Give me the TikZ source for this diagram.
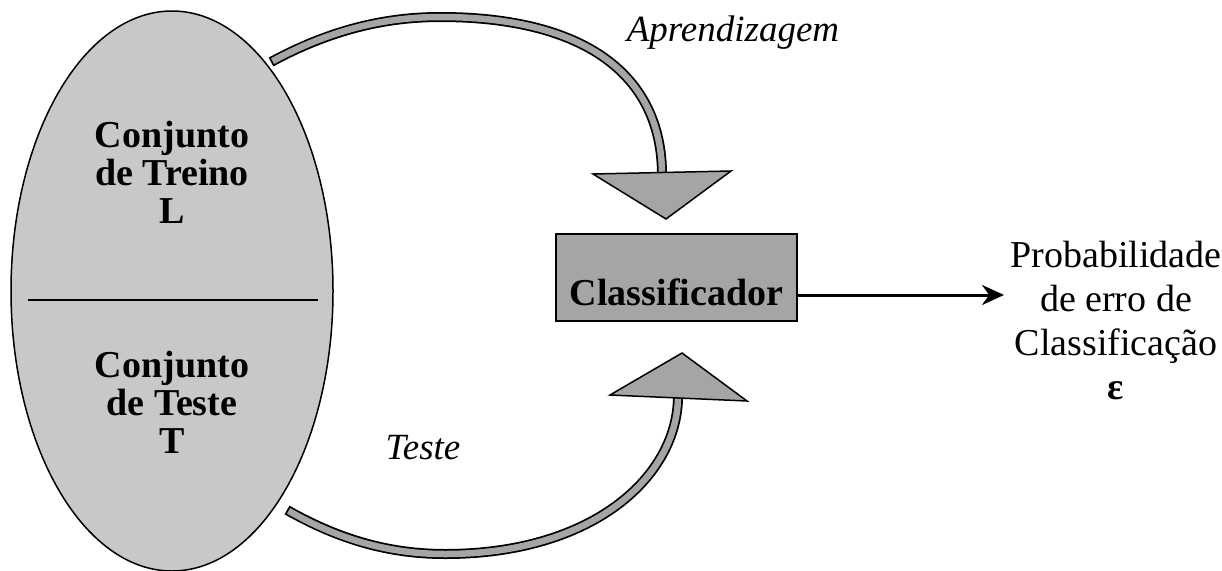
\documentclass[tikz,border=0pt]{standalone}
\usepackage{fontspec}
\setmainfont{Liberation Serif}
\usetikzlibrary{shapes.geometric,arrows.meta}
\definecolor{lightfill}{RGB}{200,200,200}
\definecolor{midfill}{RGB}{165,165,165}
\tikzset{
  big/.style={font=\fontsize{38}{44}\selectfont},
  bigbold/.style={font=\fontsize{38}{38}\selectfont\bfseries},
  bigit/.style={font=\fontsize{37}{40}\selectfont\itshape},
  bandout/.style={line width=10pt,black},
  bandin/.style={line width=6.5pt,midfill,shorten <=1.8pt},
  headshape/.style={fill=midfill,draw=black,line width=1.5pt,line join=miter},
}
\begin{document}
\begin{tikzpicture}[x=1pt,y=-1pt]
\useasboundingbox (0,0) rectangle (1222,570);
% ellipse of sets
\node[ellipse,draw=black,line width=1.5pt,fill=lightfill,minimum width=322pt,minimum height=560pt,inner sep=0pt] (sets) at (172,291) {};
\draw[line width=1.5pt] (28,300) coordinate (divL) -- (318,300) coordinate (divR);
\node[bigbold,align=center] (train) at (172,172) {Conjunto\\de Treino\\L};
\node[bigbold,align=center] (test) at (172,402) {Conjunto\\de Teste\\T};
% classifier
\node[draw=black,line width=1.5pt,fill=midfill,minimum width=241pt,minimum height=87pt,inner sep=0pt] (clf) at (676.5,277.5) {};
\node[bigbold] (clft) at (676.5,292) {Classificador};
% output
\node[big,align=center] (out) at (1116,320) {Probabilidade\\de erro de\\Classificação\\\textbf{ε}};
\coordinate (clfR) at (797,295);
\coordinate (outL) at (1004,295);
\draw[line width=3pt,-{Stealth[length=22pt,width=20pt]}] (clfR) -- (outL);
% upper curved arrow
\coordinate (upS) at (271,62);
\coordinate (upE) at (662,175);
\draw[bandout] (upS) .. controls (330,30) and (385,17) .. (440,17) .. controls (585,17) and (662,75) .. (upE);
\draw[bandin] (upS) .. controls (330,30) and (385,17) .. (440,17) .. controls (585,17) and (662,75) .. (upE);
\draw[headshape] (593,174) -- (731,171) -- (666,219) coordinate (upTip) -- cycle;
% lower curved arrow
\coordinate (loS) at (287,510);
\coordinate (loE) at (678,396);
\draw[bandout] (loS) .. controls (340,540) and (390,554) .. (445,554) .. controls (595,554) and (678,475) .. (loE);
\draw[bandin] (loS) .. controls (340,540) and (390,554) .. (445,554) .. controls (595,554) and (678,475) .. (loE);
\draw[headshape] (610,395) -- (747,401) -- (682,353) coordinate (loTip) -- cycle;
% labels
\node[bigit] (lAp) at (733,33) {Aprendizagem};
\node[bigit] (lTe) at (423,448) {Teste};
\end{tikzpicture}
\end{document}
